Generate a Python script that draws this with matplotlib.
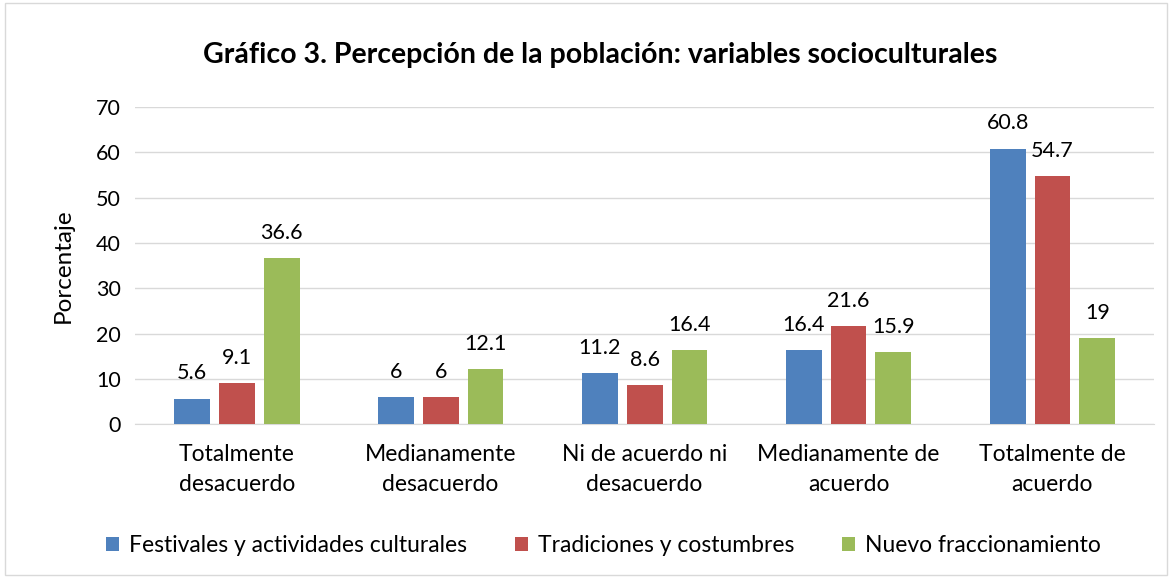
import numpy as np
import matplotlib.pyplot as plt
from matplotlib.patches import Rectangle

plt.rcParams['font.family'] = ['Lato', 'DejaVu Sans']

categorias = ['Totalmente\ndesacuerdo', 'Medianamente\ndesacuerdo',
              'Ni de acuerdo ni\ndesacuerdo', 'Medianamente de\nacuerdo',
              'Totalmente de\nacuerdo']
festivales = [5.6, 6, 11.2, 16.4, 60.8]
tradiciones = [9.1, 6, 8.6, 21.6, 54.7]
nuevo = [36.6, 12.1, 16.4, 15.9, 19]
series = ['Festivales y actividades culturales', 'Tradiciones y costumbres',
          'Nuevo fraccionamiento']
colores = ['#4F81BD', '#C0504D', '#9BBB59']

fig = plt.figure(figsize=(11.72, 5.77), dpi=100)
fig.patches.append(Rectangle((0.004, 0.004), 0.992, 0.99, transform=fig.transFigure,
                             fill=False, edgecolor='#D9D9D9', lw=1))
ax = fig.add_axes([0.115, 0.265, 0.870, 0.5494])

x = np.arange(len(categorias))
w = 0.176
off = 0.22
for i, (vals, nombre, c) in enumerate(zip([festivales, tradiciones, nuevo], series, colores)):
    pos = x + (i - 1) * off
    ax.bar(pos, vals, w, color=c, label=nombre, zorder=3)
    for p, v in zip(pos, vals):
        ax.annotate(f'{v:g}', (p, v), xytext=(0, 11), textcoords='offset points',
                    ha='center', va='bottom', fontsize=15.5)

ax.set_xlim(-0.5, 4.5)
ax.set_ylim(0, 70)
ax.set_yticks(range(0, 71, 10))
ax.grid(axis='y', color='#D9D9D9', lw=1, zorder=0)
ax.set_xticks(x)
ax.set_xticklabels(categorias, fontsize=16.5, linespacing=1.55)
ax.tick_params(axis='y', labelsize=15.5, length=0, pad=10)
ax.tick_params(axis='x', length=0, pad=14)
for s in ['top', 'right', 'left']:
    ax.spines[s].set_visible(False)
ax.spines['bottom'].set_color('#D9D9D9')
ax.set_ylabel('Porcentaje', fontsize=17.5, labelpad=16)

fig.text(0.512, 0.905, 'Gráfico 3. Percepción de la población: variables socioculturales',
         ha='center', va='center', fontsize=20.5, fontweight='bold')
fig.legend(loc='center', bbox_to_anchor=(0.515, 0.055), ncol=3, frameon=False,
           fontsize=16.5, handlelength=0.55, handleheight=0.55, handletextpad=0.45,
           columnspacing=2.1)

fig.savefig('out.png', dpi=100)
